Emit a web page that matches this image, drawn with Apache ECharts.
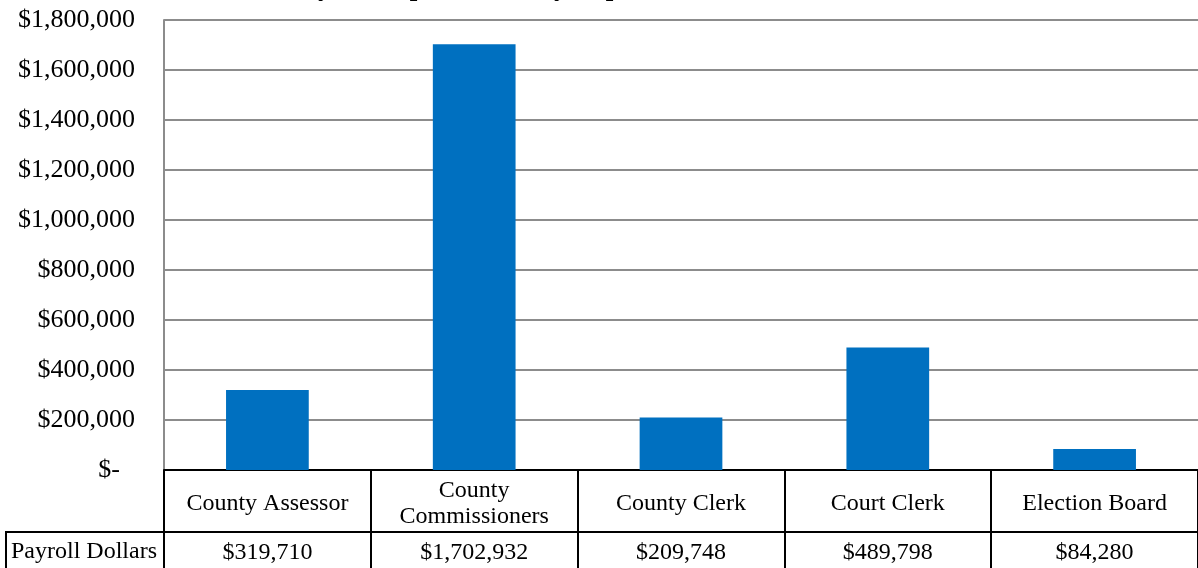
<!DOCTYPE html>
<html>
<head>
<meta charset="utf-8">
<script src="https://cdn.jsdelivr.net/npm/echarts@6/dist/echarts.min.js"></script>
<style>
  html, body { margin: 0; padding: 0; background: #fff; }
  #chart { width: 1198px; height: 568px; }
</style>
</head>
<body>
<div id="chart"></div>
<script>
  // chart data
  const titleText = 'Payroll Expenditures by Department'
  const departments = ['County Assessor', 'County\nCommissioners', 'County Clerk', 'Court Clerk', 'Election Board']
  const payrollDollars = [319710, 1702932, 209748, 489798, 84280]
  const rowLabel = 'Payroll Dollars'
  const yMin = 0
  const yMax = 1800000
  const yStep = 200000

  const FONT = '"Liberation Serif", "Times New Roman", serif'
  const money = v => '$' + v.toLocaleString('en-US')

  const chart = echarts.init(document.getElementById('chart'))
  chart.setOption({
    animation: false,
    textStyle: { fontFamily: FONT },
    grid: { left: 164, right: 0, top: 20, bottom: 98 },
    xAxis: [
      {
        type: 'category',
        data: departments,
        axisLine: { lineStyle: { color: '#000', width: 2 } },
        axisTick: { show: true, length: 62, lineStyle: { color: '#000', width: 2 } },
        axisLabel: {
          interval: 0, margin: 34, verticalAlign: 'middle',
          fontFamily: FONT, fontSize: 24, color: '#000', lineHeight: 26
        }
      },
      {
        type: 'category',
        position: 'bottom',
        offset: 62,
        data: payrollDollars,
        axisLine: { lineStyle: { color: '#000', width: 2 } },
        axisTick: { show: true, length: 40, lineStyle: { color: '#000', width: 2 } },
        axisLabel: {
          interval: 0, margin: 21, verticalAlign: 'middle',
          fontFamily: FONT, fontSize: 24, color: '#000',
          formatter: v => money(Number(v))
        }
      }
    ],
    yAxis: {
      type: 'value',
      min: yMin,
      max: yMax,
      interval: yStep,
      axisLine: { show: true, lineStyle: { color: '#8c8c8c', width: 2 } },
      axisTick: { show: false },
      splitLine: { lineStyle: { color: '#8c8c8c', width: 2 } },
      axisLabel: {
        margin: 29, fontFamily: FONT, fontSize: 26, color: '#000',
        formatter: v => v === 0 ? '{z|$-}' : money(v),
        rich: { z: { fontFamily: FONT, fontSize: 26, color: '#000', padding: [0, 15, 0, 0] } }
      }
    },
    series: [{
      type: 'bar',
      xAxisIndex: 0,
      data: payrollDollars,
      barWidth: '40%',
      itemStyle: { color: '#0070C0' }
    }],
    graphic: [
      {
        type: 'text',
        x: 288,
        y: -12,
        style: {
          text: titleText,
          font: 'bold 27px ' + FONT,
          fill: '#000',
          textVerticalAlign: 'middle'
        }
      },
      {
        type: 'rect',
        shape: { x: 6, y: 532, width: 158, height: 44 },
        style: { fill: 'none', stroke: '#000', lineWidth: 2 }
      },
      {
        type: 'text',
        x: 11,
        y: 552,
        style: {
          text: rowLabel,
          font: '24px ' + FONT,
          fill: '#000',
          textVerticalAlign: 'middle'
        }
      }
    ]
  })
</script>
</body>
</html>
